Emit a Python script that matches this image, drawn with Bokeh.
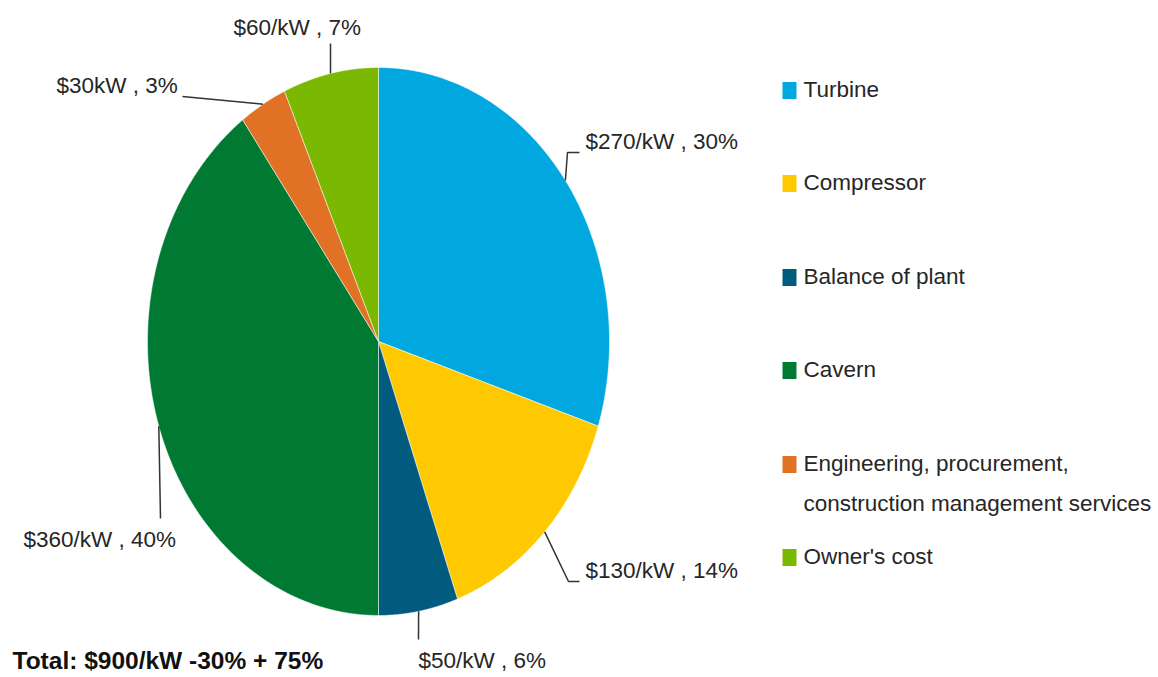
import math
from bokeh.plotting import figure
from bokeh.models import Range1d
from bokeh.core.properties import value
from bokeh.embed import file_html
from bokeh.resources import INLINE

# ---- data ----
categories = ["Turbine", "Compressor", "Balance of plant", "Cavern",
              "Engineering, procurement,\nconstruction management services", "Owner's cost"]
costs = [270, 130, 50, 360, 30, 60]          # $/kW
labels = ["$270/kW , 30%", "$130/kW , 14%", "$50/kW , 6%", "$360/kW , 40%", "$30kW , 3%", "$60/kW , 7%"]
total_text = "Total: $900/kW -30% + 75%"

# ---- styles / layout ----
colors = ["#00A8DF", "#FFC901", "#005B7F", "#007A33", "#E17125", "#7AB801"]
CX, CY, RX, RY = 378, 341, 231, 274        # pie geometry in page pixels
FONT = value("Liberation Sans")
FS = "22.5px"
label_pos = [(585, 141), (585, 570), (418, 660), (23, 539), (56, 85), (233, 27)]
leader_rest = [[(567, 152), (579, 152)], [(568, 581), (579, 581)], [(418, 639)],
               [(160, 518)], [(182, 96)], [(330, 43)]]
legend_x, legend_y = 789, [90, 183, 277, 370, 464, 557]

W, H = 1158, 677
p = figure(width=W, height=H, output_backend="svg", toolbar_location=None,
           x_range=Range1d(0, W), y_range=Range1d(H, 0), min_border=0)
p.axis.visible = False
p.grid.visible = False
p.outline_line_color = None

tot = sum(costs)
start = 90.0
for i, c in enumerate(costs):
    sweep = 360.0 * c / tot
    end = start - sweep
    n = max(int(sweep * 2), 4)
    xs, ys = [CX], [CY]
    for k in range(n + 1):
        a = math.radians(start - sweep * k / n)
        xs.append(CX + RX * math.cos(a))
        ys.append(CY - RY * math.sin(a))
    p.patch(xs, ys, fill_color=colors[i], line_color="white", line_alpha=0.5, line_width=1)
    mid = math.radians(start - sweep / 2)
    ax, ay = CX + RX * math.cos(mid), CY - RY * math.sin(mid)
    lx = [ax] + [q[0] for q in leader_rest[i]]
    ly = [ay] + [q[1] for q in leader_rest[i]]
    p.line(lx, ly, line_color="#333333", line_width=1.5)
    p.text([label_pos[i][0]], [label_pos[i][1]], text=[labels[i]], text_font=FONT,
           text_font_size=FS, text_color="#262626", text_baseline="middle", text_align="left")
    start = end

# legend
for i, name in enumerate(categories):
    p.rect([legend_x], [legend_y[i]], width=14, height=17, fill_color=colors[i], line_color=None)
    for j, part in enumerate(name.split("\n")):
        p.text([803], [legend_y[i] - 1 + j * 40], text=[part], text_font=FONT,
               text_font_size=FS, text_color="#262626", text_baseline="middle", text_align="left")

p.text([12], [660], text=[total_text], text_font=FONT, text_font_style="bold",
       text_font_size="24.5px", text_color="#111111", text_baseline="middle", text_align="left")

open("out.html", "w").write(file_html(p, INLINE))
